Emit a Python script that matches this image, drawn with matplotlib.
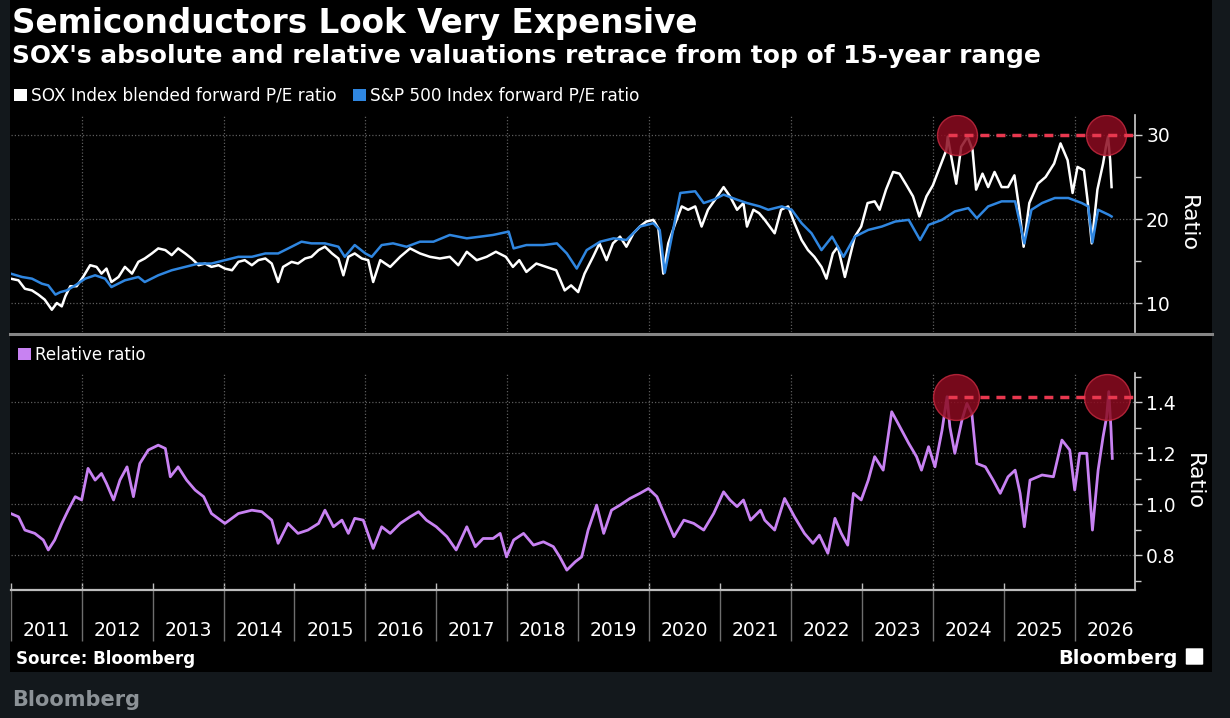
import matplotlib
matplotlib.use('Agg')
import matplotlib.pyplot as plt
from matplotlib.patches import Rectangle, Patch, FancyBboxPatch
from matplotlib.lines import Line2D
from matplotlib.ticker import FormatStrFormatter

# ---------------- data (decimal years) ----------------
sox_years = [2011.00, 2011.11, 2011.20, 2011.30, 2011.39, 2011.48, 2011.58, 2011.65, 2011.72, 2011.77,
             2011.84, 2011.93, 2012.02, 2012.12, 2012.21, 2012.28, 2012.35, 2012.42, 2012.52, 2012.61,
             2012.71, 2012.80, 2012.89, 2012.99, 2013.08, 2013.18, 2013.27, 2013.36, 2013.46, 2013.55,
             2013.65, 2013.74, 2013.83, 2013.93, 2014.02, 2014.12, 2014.21, 2014.30, 2014.40, 2014.49,
             2014.59, 2014.68, 2014.77, 2014.84, 2014.96, 2015.05, 2015.15, 2015.24, 2015.34, 2015.43,
             2015.53, 2015.62, 2015.69, 2015.76, 2015.85, 2015.95, 2016.04, 2016.11, 2016.21, 2016.35,
             2016.49, 2016.63, 2016.77, 2016.91, 2017.05, 2017.19, 2017.31, 2017.43, 2017.57, 2017.71,
             2017.84, 2017.98, 2018.08, 2018.17, 2018.27, 2018.41, 2018.55, 2018.69, 2018.81, 2018.90,
             2019.00, 2019.09, 2019.21, 2019.30, 2019.40, 2019.49, 2019.59, 2019.68, 2019.78, 2019.87,
             2019.96, 2020.06, 2020.13, 2020.20, 2020.27, 2020.37, 2020.46, 2020.55, 2020.65, 2020.74,
             2020.83, 2020.93, 2021.05, 2021.14, 2021.24, 2021.33, 2021.38, 2021.47, 2021.55, 2021.63,
             2021.77, 2021.86, 2021.96, 2022.05, 2022.15, 2022.24, 2022.33, 2022.43, 2022.50, 2022.59,
             2022.66, 2022.76, 2022.83, 2022.90, 2022.99, 2023.08, 2023.18, 2023.25, 2023.34, 2023.44,
             2023.53, 2023.63, 2023.72, 2023.81, 2023.91, 2024.00, 2024.10, 2024.19, 2024.21, 2024.26,
             2024.33, 2024.40, 2024.49, 2024.56, 2024.61, 2024.70, 2024.78, 2024.87, 2024.97, 2025.06,
             2025.15, 2025.22, 2025.28, 2025.36, 2025.48, 2025.59, 2025.71, 2025.80, 2025.90, 2025.97,
             2026.04, 2026.13, 2026.18, 2026.24, 2026.32, 2026.40, 2026.44, 2026.47, 2026.50, 2026.52]
sox_pe = [12.9, 12.7, 11.7, 11.5, 11.0, 10.4, 9.2, 10.0, 9.6, 10.8,
          12.0, 12.0, 13.1, 14.5, 14.3, 13.5, 14.1, 12.5, 13.1, 14.3,
          13.5, 14.9, 15.3, 15.9, 16.5, 16.3, 15.7, 16.5, 15.9, 15.3,
          14.5, 14.7, 14.3, 14.5, 14.1, 13.9, 14.9, 15.1, 14.5, 15.1,
          15.3, 14.7, 12.5, 14.3, 14.9, 14.7, 15.3, 15.5, 16.3, 16.7,
          15.9, 15.3, 13.3, 15.5, 15.9, 15.3, 15.1, 12.5, 15.1, 14.3,
          15.5, 16.5, 15.9, 15.5, 15.3, 15.5, 14.5, 16.1, 15.1, 15.5,
          16.1, 15.5, 14.3, 15.1, 13.7, 14.7, 14.3, 13.9, 11.5, 12.1,
          11.3, 13.5, 15.5, 17.1, 15.1, 17.1, 17.9, 16.7, 18.3, 19.1,
          19.7, 19.9, 18.9, 13.5, 17.1, 19.5, 21.5, 21.1, 21.5, 19.1,
          21.1, 22.3, 23.8, 22.7, 21.1, 21.9, 19.1, 21.1, 20.7, 19.9,
          18.3, 21.1, 21.5, 19.5, 17.5, 16.3, 15.5, 14.3, 12.9, 15.9,
          16.7, 13.1, 15.5, 17.9, 19.1, 21.9, 22.1, 21.1, 23.5, 25.6,
          25.4, 24.0, 22.7, 20.3, 22.7, 24.0, 26.2, 28.2, 29.8, 27.4,
          24.2, 28.6, 29.8, 28.2, 23.5, 25.4, 23.8, 25.6, 23.8, 23.8,
          25.2, 21.1, 16.7, 21.9, 24.2, 25.0, 26.6, 29.0, 27.0, 23.1,
          26.2, 25.8, 22.3, 17.1, 23.5, 26.6, 28.6, 29.8, 27.0, 23.8]

spx_years = [2011.00, 2011.16, 2011.30, 2011.44, 2011.53, 2011.63, 2011.70, 2011.79, 2011.91, 2012.05,
             2012.19, 2012.33, 2012.42, 2012.61, 2012.80, 2012.89, 2013.08, 2013.27, 2013.46, 2013.65,
             2013.83, 2014.02, 2014.21, 2014.40, 2014.59, 2014.77, 2014.96, 2015.10, 2015.24, 2015.43,
             2015.62, 2015.71, 2015.85, 2016.00, 2016.09, 2016.23, 2016.39, 2016.58, 2016.77, 2016.96,
             2017.19, 2017.43, 2017.62, 2017.80, 2018.02, 2018.09, 2018.27, 2018.51, 2018.70, 2018.84,
             2018.98, 2019.12, 2019.31, 2019.50, 2019.68, 2019.87, 2020.06, 2020.15, 2020.22, 2020.32,
             2020.44, 2020.65, 2020.77, 2020.91, 2021.05, 2021.24, 2021.38, 2021.56, 2021.68, 2021.87,
             2022.01, 2022.15, 2022.29, 2022.43, 2022.58, 2022.74, 2022.90, 2023.09, 2023.28, 2023.47,
             2023.66, 2023.82, 2023.94, 2024.13, 2024.31, 2024.50, 2024.62, 2024.78, 2024.97, 2025.16,
             2025.29, 2025.39, 2025.54, 2025.72, 2025.91, 2026.10, 2026.19, 2026.25, 2026.33, 2026.48,
             2026.52]
spx_pe = [13.5, 13.1, 12.9, 12.3, 12.1, 11.0, 11.3, 11.5, 12.1, 12.9,
          13.3, 12.9, 11.9, 12.7, 13.1, 12.5, 13.3, 13.9, 14.3, 14.7,
          14.7, 15.1, 15.5, 15.5, 15.9, 15.9, 16.7, 17.3, 17.1, 17.1,
          16.7, 15.5, 16.9, 15.9, 15.5, 16.9, 17.1, 16.7, 17.3, 17.3,
          18.1, 17.7, 17.9, 18.1, 18.5, 16.5, 16.9, 16.9, 17.1, 15.9,
          14.1, 16.3, 17.3, 17.7, 17.5, 19.1, 19.5, 18.7, 13.6, 17.9,
          23.1, 23.3, 21.9, 22.3, 22.9, 22.3, 21.9, 21.5, 21.1, 21.5,
          21.1, 19.5, 18.3, 16.3, 17.9, 15.5, 17.9, 18.7, 19.1, 19.7,
          19.9, 17.5, 19.3, 19.9, 20.9, 21.3, 20.1, 21.5, 22.1, 22.1,
          17.1, 21.1, 21.9, 22.5, 22.5, 21.9, 21.5, 17.2, 21.1, 20.5,
          20.3]

rel_years = [2011.00, 2011.11, 2011.20, 2011.34, 2011.46, 2011.53, 2011.62, 2011.72, 2011.81, 2011.91,
             2012.00, 2012.09, 2012.19, 2012.28, 2012.35, 2012.45, 2012.54, 2012.64, 2012.73, 2012.82,
             2012.94, 2013.08, 2013.18, 2013.25, 2013.36, 2013.48, 2013.60, 2013.72, 2013.83, 2014.02,
             2014.21, 2014.40, 2014.54, 2014.68, 2014.77, 2014.91, 2015.05, 2015.19, 2015.34, 2015.43,
             2015.55, 2015.67, 2015.76, 2015.85, 2015.97, 2016.11, 2016.23, 2016.35, 2016.49, 2016.63,
             2016.75, 2016.86, 2017.00, 2017.15, 2017.28, 2017.43, 2017.55, 2017.66, 2017.80, 2017.90,
             2017.99, 2018.09, 2018.23, 2018.37, 2018.51, 2018.65, 2018.74, 2018.84, 2018.96, 2019.05,
             2019.14, 2019.26, 2019.36, 2019.47, 2019.59, 2019.73, 2019.87, 2019.99, 2020.11, 2020.23,
             2020.35, 2020.49, 2020.63, 2020.77, 2020.91, 2021.05, 2021.14, 2021.24, 2021.33, 2021.43,
             2021.57, 2021.63, 2021.77, 2021.91, 2022.05, 2022.19, 2022.31, 2022.40, 2022.52, 2022.62,
             2022.71, 2022.80, 2022.88, 2022.99, 2023.09, 2023.18, 2023.30, 2023.42, 2023.51, 2023.66,
             2023.77, 2023.84, 2023.94, 2024.03, 2024.13, 2024.20, 2024.24, 2024.31, 2024.41, 2024.48,
             2024.55, 2024.62, 2024.74, 2024.85, 2024.95, 2025.06, 2025.16, 2025.23, 2025.29, 2025.37,
             2025.54, 2025.70, 2025.82, 2025.93, 2026.00, 2026.07, 2026.17, 2026.25, 2026.33, 2026.40,
             2026.45, 2026.48, 2026.51, 2026.53]
rel_ratio = [0.963, 0.950, 0.898, 0.885, 0.859, 0.820, 0.859, 0.924, 0.976, 1.029,
             1.016, 1.140, 1.094, 1.120, 1.081, 1.016, 1.094, 1.146, 1.029, 1.159,
             1.212, 1.231, 1.218, 1.107, 1.146, 1.094, 1.055, 1.029, 0.963, 0.924,
             0.963, 0.976, 0.970, 0.937, 0.846, 0.924, 0.885, 0.898, 0.924, 0.976,
             0.911, 0.937, 0.885, 0.944, 0.937, 0.826, 0.911, 0.885, 0.924, 0.950,
             0.970, 0.937, 0.911, 0.872, 0.820, 0.911, 0.833, 0.865, 0.865, 0.885,
             0.793, 0.859, 0.885, 0.839, 0.852, 0.833, 0.793, 0.741, 0.774, 0.793,
             0.898, 0.996, 0.885, 0.976, 0.996, 1.022, 1.042, 1.061, 1.029, 0.950,
             0.872, 0.937, 0.924, 0.898, 0.963, 1.048, 1.016, 0.990, 1.016, 0.937,
             0.976, 0.937, 0.898, 1.022, 0.950, 0.885, 0.846, 0.878, 0.807, 0.944,
             0.885, 0.839, 1.042, 1.016, 1.094, 1.186, 1.133, 1.362, 1.316, 1.238,
             1.186, 1.133, 1.225, 1.146, 1.290, 1.421, 1.303, 1.199, 1.329, 1.395,
             1.355, 1.159, 1.146, 1.094, 1.042, 1.107, 1.133, 1.042, 0.911, 1.094,
             1.114, 1.107, 1.251, 1.212, 1.055, 1.199, 1.199, 0.898, 1.133, 1.264,
             1.342, 1.441, 1.303, 1.179]

# highlighted peaks
peak_years_top = [2024.34, 2026.44]
peak_level_top = 30.0
peak_years_rel = [2024.33, 2026.45]
peak_level_rel = 1.418
dash_start = 2024.21

year_starts = list(range(2011, 2027))
year_labels = [str(y) for y in year_starts]
grid_years = list(range(2012, 2027, 2))
top_ticks = [10, 20, 30]
top_minor = [15, 25]
rel_ticks = [0.8, 1.0, 1.2, 1.4]
rel_minor = [0.7, 0.9, 1.1, 1.3, 1.5]

title = 'Semiconductors Look Very Expensive'
subtitle = "SOX's absolute and relative valuations retrace from top of 15-year range"
sox_label = 'SOX Index blended forward P/E ratio'
spx_label = 'S&P 500 Index forward P/E ratio'
rel_label = 'Relative ratio'

# ---------------- styling ----------------
C_WHITE = '#ffffff'
C_BLUE = '#2f86e0'
C_PURPLE = '#c882f2'
C_GRID = '#5c5c5c'
C_CIRCLE = '#8c0b20'
C_CIRCLE_EDGE = '#c2283e'
C_DASH = '#e8384f'

W, H = 1230, 718
fig = plt.figure(figsize=(W / 100, H / 100), dpi=100, facecolor='#13181c')


def fx(px):
    return px / W


def fy(py):
    return 1 - py / H


fig.patches.append(Rectangle((fx(10), fy(672)), fx(1212) - fx(10), fy(0) - fy(672),
                             transform=fig.transFigure, facecolor='black',
                             edgecolor='none', zorder=-5))

XL, XR = 10.7, 1135
ax1 = fig.add_axes([fx(XL), fy(332), fx(XR) - fx(XL), fy(115) - fy(332)])
ax2 = fig.add_axes([fx(XL), fy(590), fx(XR) - fx(XL), fy(373) - fy(590)])

xlim = (2011.0, 2026.85)
for ax in (ax1, ax2):
    ax.set_zorder(2)
    ax.set_facecolor('none')
    ax.set_xlim(*xlim)
    for s in ('top', 'left'):
        ax.spines[s].set_visible(False)
    ax.spines['right'].set_color('#cfcfcf')
    ax.spines['right'].set_linewidth(1.2)
    ax.yaxis.tick_right()
    ax.yaxis.set_label_position('right')
    ax.tick_params(axis='y', which='major', colors='#cfcfcf', labelcolor='white',
                   labelsize=13.5, length=5, width=1, pad=3)
    ax.tick_params(axis='y', which='minor', colors='#cfcfcf', length=4, width=1)
    for yr in grid_years:
        ax.axvline(yr, color=C_GRID, lw=0.9, ls=(0, (1, 1.6)), zorder=1)
    ax.set_ylabel('Ratio', rotation=270, color='white', fontsize=16, labelpad=20)

ax1.spines['bottom'].set_visible(False)
ax1.set_xticks([])
ax1.set_ylim(6.55, 32.38)
ax1.set_yticks(top_ticks)
ax1.set_yticks(top_minor, minor=True)
for v in top_ticks:
    ax1.axhline(v, color=C_GRID, lw=0.9, ls=(0, (1, 1.6)), zorder=1)

ax1.plot(sox_years, sox_pe, color=C_WHITE, lw=1.8, zorder=3)
ax1.plot(spx_years, spx_pe, color=C_BLUE, lw=1.8, zorder=3)
ax1.scatter(peak_years_top, [peak_level_top] * len(peak_years_top), s=830,
            facecolor=C_CIRCLE, edgecolor=C_CIRCLE_EDGE, lw=1, alpha=0.85, zorder=5)
ax1.hlines(peak_level_top, dash_start, xlim[1] - 0.03, color=C_DASH, lw=2.5,
           ls=(0, (2.6, 2.0)), zorder=6)

ax2.set_ylim(0.663, 1.514)
ax2.set_yticks(rel_ticks)
ax2.set_yticks(rel_minor, minor=True)
ax2.yaxis.set_major_formatter(FormatStrFormatter('%.1f'))
for v in rel_ticks:
    ax2.axhline(v, color=C_GRID, lw=0.9, ls=(0, (1, 1.6)), zorder=1)
ax2.spines['bottom'].set_color('#bdbdbd')
ax2.spines['bottom'].set_linewidth(1.6)
ax2.set_xticks(year_starts)
ax2.set_xticklabels([])
ax2.set_xticks([y + 0.5 for y in year_starts], minor=True)
ax2.set_xticklabels(year_labels, minor=True)
ax2.tick_params(axis='x', which='major', direction='out', length=37, width=1,
                colors='#6e6e6e')
ax2.tick_params(axis='x', which='minor', length=0, pad=22, labelsize=13.5,
                labelcolor='white')
sec = ax2.secondary_xaxis('bottom')
sec.set_xticks(year_starts)
sec.tick_params(axis='x', direction='in', length=5, width=1, colors='#bdbdbd',
                labelbottom=False)
sec.spines['bottom'].set_visible(False)

ax2.plot(rel_years, rel_ratio, color=C_PURPLE, lw=2.0, zorder=3)
ax2.scatter(peak_years_rel, [peak_level_rel] * len(peak_years_rel), s=1090,
            facecolor=C_CIRCLE, edgecolor=C_CIRCLE_EDGE, lw=1, alpha=0.85, zorder=5)
ax2.hlines(peak_level_rel, dash_start, xlim[1] - 0.03, color=C_DASH, lw=2.5,
           ls=(0, (2.6, 2.0)), zorder=6)

# separator between panels
fig.add_artist(Line2D([fx(10), fx(1212)], [fy(333.5)] * 2, color='#858585', lw=2.2,
                      transform=fig.transFigure))

# titles
fig.text(fx(12), fy(33), title, fontsize=23.5, weight='bold', color='white', va='baseline')
fig.text(fx(12), fy(63), subtitle, fontsize=17.95, weight='bold', color='white', va='baseline')

# legends
fig.legend(handles=[Patch(facecolor=C_WHITE, label=sox_label),
                    Patch(facecolor=C_BLUE, label=spx_label)],
           loc='center left', bbox_to_anchor=(fx(14), fy(96)), ncol=2, frameon=False,
           handlelength=0.75, handleheight=0.75, handletextpad=0.25, columnspacing=1.0,
           borderpad=0, borderaxespad=0, fontsize=12.15, labelcolor='white')
fig.legend(handles=[Patch(facecolor=C_PURPLE, label=rel_label)],
           loc='center left', bbox_to_anchor=(fx(18), fy(355)), frameon=False,
           handlelength=0.75, handleheight=0.75, handletextpad=0.25,
           borderpad=0, borderaxespad=0, fontsize=12, labelcolor='white')

# footer
fig.text(fx(16), fy(664), 'Source: Bloomberg', fontsize=12, weight='bold', color='white',
         va='baseline')
fig.text(fx(1178), fy(664), 'Bloomberg', fontsize=14, weight='bold', color='white',
         va='baseline', ha='right')
fig.patches.append(FancyBboxPatch((fx(1187), fy(664)), fx(15), fy(649) - fy(664),
                                  boxstyle='round,pad=0.001', transform=fig.transFigure,
                                  facecolor='white', edgecolor='none'))
fig.text(fx(12), fy(706), 'Bloomberg', fontsize=15, weight='bold', color='#8c9297',
         va='baseline')

fig.savefig('out.png', dpi=100, facecolor=fig.get_facecolor())
